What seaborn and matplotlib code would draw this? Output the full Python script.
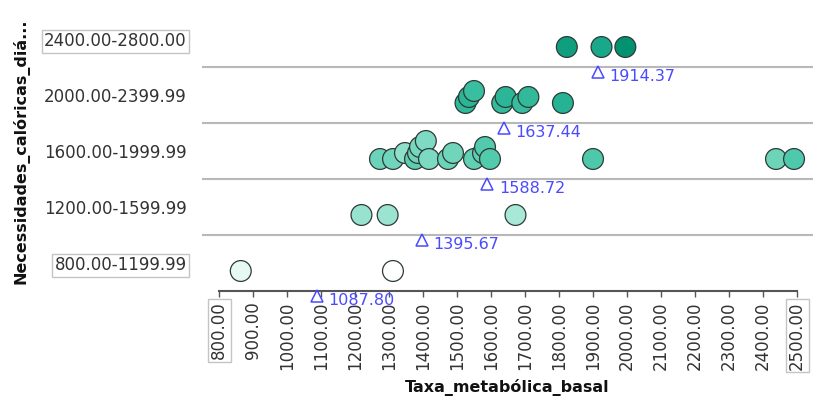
import numpy as np
import pandas as pd
import matplotlib
matplotlib.use("Agg")
import matplotlib.pyplot as plt
from matplotlib.colors import LinearSegmentedColormap
import seaborn as sns

# Basal metabolic rate (x) and daily caloric need (colour / band) per person
taxa_metabolica = [
    864.0, 1311.6,
    1219.0, 1296.0, 1672.0,
    1273.5, 1311.8, 1347.0, 1376.5, 1385.3, 1391.2, 1408.34, 1417.6, 1473.5,
    1488.2, 1550.0, 1576.5, 1582.4, 1597.0, 1900.0, 2438.2, 2491.2,
    1525.0, 1535.0, 1550.0, 1633.0, 1643.0, 1692.0, 1710.0, 1811.5,
    1823.0, 1925.0, 1995.1,
]
necessidades = [
    1010, 810,
    1550, 1531, 1450,
    1809, 1785, 1612, 1900, 1800, 1750, 1700, 1720, 1820,
    1780, 1870, 1900, 1950, 1960, 1980, 1800, 1975,
    2250, 2300, 2150, 2200, 2280, 2180, 2230, 2330,
    2590, 2470, 2760,
]
faixas_limites = [800, 1200, 1600, 2000, 2400, 2800.01]
faixas_rotulos = ["800.00-1199.99", "1200.00-1599.99", "1600.00-1999.99",
                  "2000.00-2399.99", "2400.00-2800.00"]
x_ticks = list(range(800, 2600, 100))

W, H, DPI = 822, 400, 100
AX_L, AX_R, AX_TOP, AX_BOT = 202, 813, 11, 291
BAND_PX = (AX_BOT - AX_TOP) / len(faixas_rotulos)
XMIN, XMAX = 750, 2547

df = pd.DataFrame({"taxa": taxa_metabolica, "calorias": necessidades})
df["faixa"] = pd.cut(df["calorias"], bins=faixas_limites, right=False,
                     labels=False).astype(int)

# Stack overlapping markers upwards within each band
px_per_unit = (AX_R - AX_L) / (XMAX - XMIN)


def empilhar(xs_px, limiar=12.0, passo=6.0, niveis=4):
    xs_px = np.asarray(xs_px, float)
    nivel = np.zeros(len(xs_px), int)
    colocados = []
    for i in np.argsort(xs_px, kind="stable"):
        def conflitos(nv):
            return sum(abs(xs_px[i] - xs_px[j]) < limiar
                       for j in colocados if nivel[j] == nv)
        escolha = next((nv for nv in range(niveis) if conflitos(nv) == 0), None)
        if escolha is None:
            escolha = min(range(niveis), key=conflitos)
        nivel[i] = escolha
        colocados.append(i)
    return nivel * passo


df["desloc_px"] = 0.0
for f, grupo in df.groupby("faixa"):
    df.loc[grupo.index, "desloc_px"] = empilhar(grupo["taxa"].values * px_per_unit)
df["ypos"] = df["faixa"] - 8 / BAND_PX + df["desloc_px"] / BAND_PX

medias = df.groupby("faixa")["taxa"].mean()

sns.set_theme(style="white")
plt.rcParams["font.family"] = ["DejaVu Sans"]

fig = plt.figure(figsize=(W / DPI, H / DPI), dpi=DPI)
ax = fig.add_axes([AX_L / W, (H - AX_BOT) / H, (AX_R - AX_L) / W,
                   (AX_BOT - AX_TOP) / H])

cmap = LinearSegmentedColormap.from_list(
    "verde", [(0.0, "#ffffff"), (0.2, "#d0f4ea"), (0.4, "#90e1cc"),
              (0.6, "#4bc7a9"), (0.8, "#1eaf90"), (1.0, "#008f6d")])

for b in np.arange(0.5, len(faixas_rotulos) - 1, 1.0):
    ax.axhline(b, color="#b8b8b8", lw=1.5, zorder=0)

sns.scatterplot(data=df, x="taxa", y="ypos", hue="calorias", palette=cmap,
                hue_norm=(800, 2800), s=225, edgecolor="#2e3a36",
                linewidth=0.9, legend=False, ax=ax, zorder=3, clip_on=False)

azul = "#4a4aff"
for f, m in medias.items():
    ym = f - 33 / BAND_PX
    ax.plot([m], [ym], marker="^", ms=9, mfc="none", mec=azul, mew=1.1,
            ls="none", clip_on=False, zorder=4)
    ax.annotate(f"{m:.2f}", (m, ym), xytext=(8.5, -3.5),
                textcoords="offset points", color=azul, fontsize=11.5,
                ha="left", va="center", annotation_clip=False)

ax.set_xlim(XMIN, XMAX)
ax.set_ylim(-0.5, len(faixas_rotulos) - 0.5)

ax.set_xticks(x_ticks)
ax.set_xticklabels([f"{t:.2f}" for t in x_ticks], rotation=90)
ax.set_yticks(range(len(faixas_rotulos)))
ax.set_yticklabels(faixas_rotulos)

ax.tick_params(axis="x", direction="out", length=4.5, width=1,
               color="#555555", pad=3, labelsize=12, labelcolor="#333333",
               bottom=True)
ax.tick_params(axis="y", length=0, pad=11, labelsize=12,
               labelcolor="#333333")

caixa = dict(boxstyle="square,pad=0.15", fc="none", ec="#c4c4c4", lw=1)
xtl = ax.get_xticklabels()
xtl[0].set_bbox(caixa)
xtl[-1].set_bbox(caixa)
ytl = ax.get_yticklabels()
ytl[0].set_bbox(caixa)
ytl[-1].set_bbox(caixa)

sns.despine(ax=ax, left=True)
ax.spines["bottom"].set_bounds(800, 2500)
ax.spines["bottom"].set_color("#555555")
ax.spines["bottom"].set_linewidth(1.5)

ax.set_xlabel("Taxa_metabólica_basal", fontsize=11.5, fontweight="bold",
              color="#111111")
ax.xaxis.set_label_coords(0.5, (AX_BOT - 388) / (AX_BOT - AX_TOP))
ax.xaxis.label.set_va("center")
ax.set_ylabel("Necessidades_calóricas_diá...", fontsize=11.5,
              fontweight="bold", color="#111111")
ax.yaxis.set_label_coords((30 - AX_L) / (AX_R - AX_L), 0.5)

fig.savefig("out.png", dpi=DPI)
